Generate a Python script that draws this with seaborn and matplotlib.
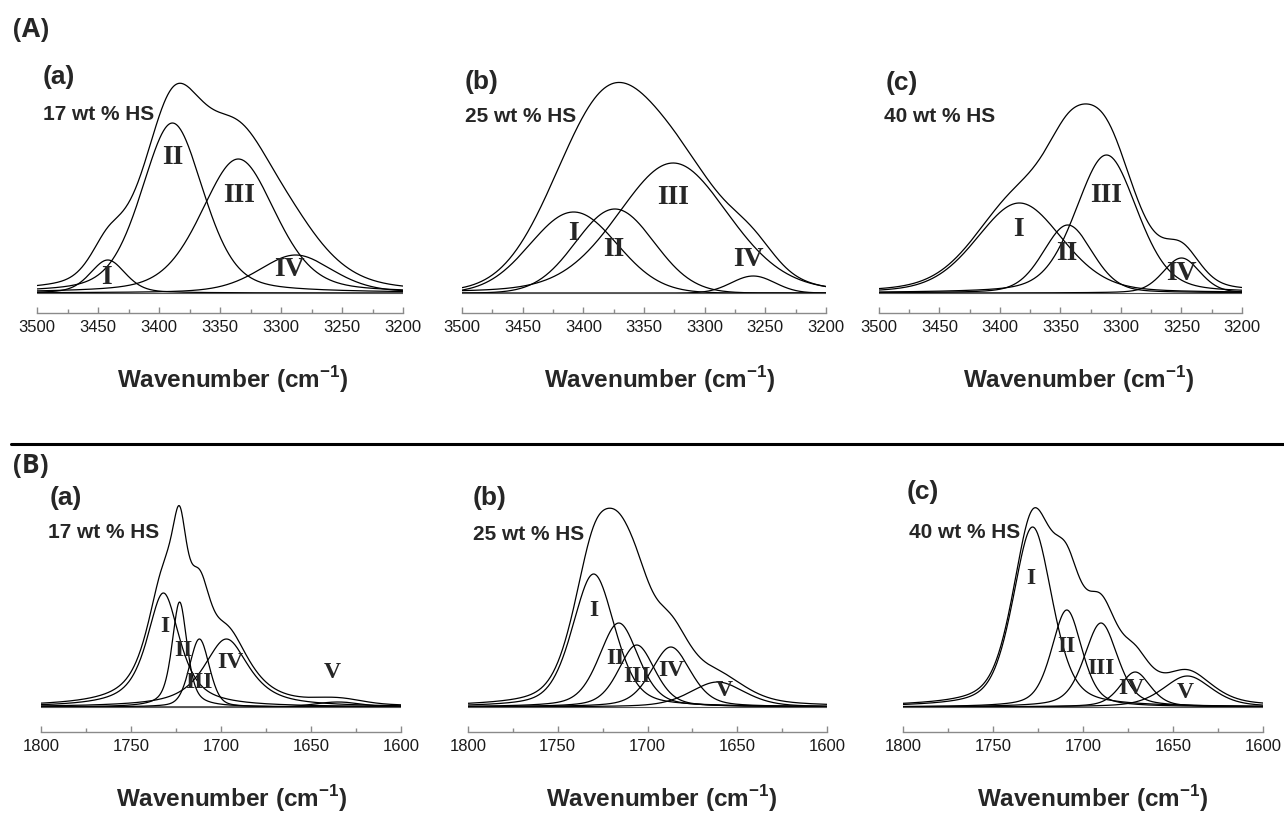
import numpy as np
import pandas as pd
import matplotlib
matplotlib.use("Agg")
import matplotlib.pyplot as plt
from matplotlib.ticker import MultipleLocator
import seaborn as sns

# ---- data (peak fits, arbitrary absorbance units) ----
samples = ["17 wt % HS", "25 wt % HS", "40 wt % HS"]
panel_tags = ["(a)", "(b)", "(c)"]

# (A) N-H stretching region
nh_range = (3500, 3200)
nh_labels = ["I", "II", "III", "IV"]
nh_centers = [[3442, 3389, 3335, 3288],
              [3408, 3374, 3326, 3260],
              [3384, 3344, 3312, 3250]]
nh_heights = [[0.33, 1.70, 1.34, 0.38],
              [0.81, 0.84, 1.30, 0.17],
              [0.90, 0.68, 1.38, 0.35]]
nh_fwhm = [[34, 60, 72, 72],
           [84, 76, 108, 42],
           [84, 48, 60, 36]]
nh_lorentz = [[0.35, 0.35, 0.35, 0.35],
              [0.0, 0.0, 0.2, 0.0],
              [0.25, 0.25, 0.3, 0.25]]

# (B) C=O stretching region
co_range = (1800, 1600)
co_labels = ["I", "II", "III", "IV", "V"]
co_centers = [[1732, 1723, 1712, 1697, 1635],
              [1730, 1716, 1706, 1687, 1661],
              [1728, 1709, 1690, 1671, 1642]]
co_heights = [[1.14, 1.05, 0.68, 0.68, 0.05],
              [1.33, 0.84, 0.62, 0.60, 0.25],
              [1.80, 0.97, 0.84, 0.35, 0.31]]
co_fwhm = [[22, 10, 13, 30, 30],
           [28, 26, 24, 26, 36],
           [26, 20, 22, 20, 32]]
co_lorentz = [[0.8, 0.6, 0.3, 0.8, 0.0],
              [0.4, 0.4, 0.4, 0.4, 0.4],
              [0.45, 0.45, 0.45, 0.45, 0.45]]

# label anchor points (wavenumber, height) for the roman numerals
nh_label_pos = [[(3443, 0.15), (3389, 1.36), (3334, 0.98), (3293, 0.23)],
                [(3408, 0.59), (3375, 0.44), (3326, 0.95), (3264, 0.34)],
                [(3385, 0.64), (3345, 0.39), (3312, 0.98), (3250, 0.20)]]
co_label_pos = [[(1731, 0.80), (1721, 0.56), (1712, 0.25), (1695, 0.45), (1638, 0.34)],
                [(1730, 0.97), (1718, 0.48), (1706, 0.30), (1687, 0.37), (1657, 0.16)],
                [(1729, 1.29), (1709, 0.60), (1690, 0.39), (1673, 0.19), (1643, 0.15)]]


def pseudo_voigt(x, c, h, w, eta):
    g = np.exp(-4 * np.log(2) * (x - c) ** 2 / w ** 2)
    l = 1.0 / (1 + 4 * (x - c) ** 2 / w ** 2)
    return h * (eta * l + (1 - eta) * g)


def build_frame(xr, centers, heights, fwhm, eta):
    x = np.linspace(xr[1], xr[0], 600)
    rows = []
    total = np.zeros_like(x)
    for i, (c, h, w, e) in enumerate(zip(centers, heights, fwhm, eta)):
        y = pseudo_voigt(x, c, h, w, e)
        total += y
        rows.append(pd.DataFrame({"wn": x, "abs": y, "curve": f"p{i}"}))
    rows.append(pd.DataFrame({"wn": x, "abs": total, "curve": "fit"}))
    return pd.concat(rows, ignore_index=True)


sns.set_theme(style="white")
plt.rcParams["font.family"] = ["Liberation Sans", "DejaVu Sans"]
plt.rcParams["mathtext.fontset"] = "custom"
plt.rcParams["mathtext.bf"] = "Liberation Sans:bold"
plt.rcParams["mathtext.rm"] = "Liberation Sans"

W, H = 1284, 818
fig = plt.figure(figsize=(W / 100, H / 100), dpi=100)
fig.patch.set_facecolor("white")


def px_axes(x0, x1, y_top, y_bot):
    return fig.add_axes([x0 / W, 1 - y_bot / H, (x1 - x0) / W, (y_bot - y_top) / H])


rows = [
    dict(xr=nh_range, centers=nh_centers, heights=nh_heights, fwhm=nh_fwhm, eta=nh_lorentz,
         labels=nh_labels, lpos=nh_label_pos, ylim=(-0.20, 2.33), top=60, bot=313,
         xs=[(37, 403), (462, 826), (879, 1242)], roman_fs=20,
         tag_y=[77, 82, 83], tag_x=[43, 465, 886], samp_y=[115, 117, 117], samp_x=[43, 465, 884],
         xlab_x=[233, 660, 1079], xlab_y=380),
    dict(xr=co_range, centers=co_centers, heights=co_heights, fwhm=co_fwhm, eta=co_lorentz,
         labels=co_labels, lpos=co_label_pos, ylim=(-0.25, 2.37), top=470, bot=732,
         xs=[(41, 401), (468, 827), (903, 1263)], roman_fs=17,
         tag_y=[498, 498, 492], tag_x=[50, 473, 907], samp_y=[533, 534, 533], samp_x=[48, 473, 909],
         xlab_x=[232, 662, 1093], xlab_y=799),
]

for r in rows:
    for k in range(3):
        x0, x1 = r["xs"][k]
        ax = px_axes(x0, x1, r["top"], r["bot"])
        df = build_frame(r["xr"], r["centers"][k], r["heights"][k], r["fwhm"][k], r["eta"][k])
        sns.lineplot(data=df, x="wn", y="abs", units="curve", estimator=None,
                     color="black", lw=0.9, ax=ax, legend=False, sort=False)
        ax.axhline(0, color="#555555", lw=0.8)
        ax.set_xlim(r["xr"])
        ax.set_ylim(r["ylim"])
        ax.set_xlabel("")
        ax.set_ylabel("")
        ax.set_yticks([])
        ax.xaxis.set_major_locator(MultipleLocator(50))
        ax.xaxis.set_minor_locator(MultipleLocator(25))
        for s in ["top", "left", "right"]:
            ax.spines[s].set_visible(False)
        ax.spines["bottom"].set_color("#8a8a8a")
        ax.spines["bottom"].set_linewidth(1.0)
        ax.tick_params(axis="x", which="both", direction="in", colors="#8a8a8a",
                       labelcolor="#1a1a1a", labelsize=12, pad=5, bottom=True)
        ax.tick_params(axis="x", which="major", length=4, width=1)
        ax.tick_params(axis="x", which="minor", length=3, width=1)
        ax.patch.set_alpha(0)
        for lab, (lx, ly) in zip(r["labels"], r["lpos"][k]):
            ax.text(lx, ly, lab, ha="center", va="center", fontsize=r["roman_fs"],
                    fontweight="bold", family=["Liberation Serif", "DejaVu Serif"])
        fig.text(r["tag_x"][k] / W, 1 - r["tag_y"][k] / H, panel_tags[k], fontsize=19,
                 fontweight="bold", ha="left", va="center")
        fig.text(r["samp_x"][k] / W, 1 - r["samp_y"][k] / H, samples[k], fontsize=15,
                 fontweight="bold", ha="left", va="center")
        fig.text(r["xlab_x"][k] / W, 1 - r["xlab_y"] / H,
                 r"Wavenumber (cm$^{\mathbf{-1}}$)", fontsize=17.5, fontweight="bold",
                 ha="center", va="center")

# section headers and separator
for txt, yy in [("(A)", 30), ("(B)", 465)]:
    fig.text(13 / W, 1 - yy / H, txt, fontsize=19, fontweight="bold", ha="left", va="center",
             family=["Open Sans", "DejaVu Sans"])
fig.add_artist(plt.Line2D([11 / W, 1.0], [1 - 444 / H, 1 - 444 / H], color="black", lw=2.2,
                          transform=fig.transFigure))

fig.savefig("out.png", dpi=100, facecolor="white")
